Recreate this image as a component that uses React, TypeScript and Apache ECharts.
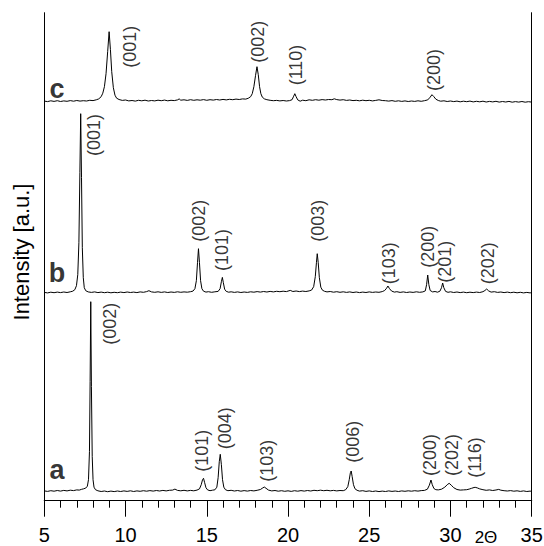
import { useEffect, useRef } from "react";
import * as echarts from "echarts";

// 2θ range and tick labels
const xMin = 5;
const xMax = 35;
const xTickStep = 5;

// vertical offsets (stacking) of the three patterns, in intensity units
const offsetA = 9;
const offsetB = 208;
const offsetC = 399;
const yMax = 488;

// pattern a: [2θ, intensity]
const traceA: [number, number][] = [
  [5.0,0.8],[5.2,0.3],[5.4,1.0],[5.6,0.5],[5.8,1.2],[6.0,0.6],[6.2,1.3],[6.4,0.8],[6.6,1.5],[6.8,1.1],[7.0,1.8],[7.15,1.6],[7.3,2.4],[7.42,2.9],[7.55,3.6],[7.65,5.5],[7.72,12],[7.78,40],[7.82,110],[7.86,190],[7.9,105],[7.95,35],[8.0,12],[8.06,4.5],[8.15,2.0],[8.3,0.9],[8.5,0.2],[8.7,0.7],[8.9,0.0],[9.1,0.6],[9.3,0.1],[9.5,0.7],[9.7,0.2],[9.9,0.8],[10.1,0.3],[10.3,0.9],[10.5,0.2],[10.7,0.8],[10.9,0.4],[11.1,1.0],[11.3,0.5],[11.5,1.1],[11.7,0.6],[11.9,1.2],[12.1,0.7],[12.3,1.3],[12.5,0.8],[12.7,1.4],[12.9,1.6],[13.04,2.6],[13.2,1.3],[13.4,0.9],[13.6,1.4],[13.8,0.8],[14.0,1.3],[14.2,0.9],[14.4,1.6],[14.55,2.8],[14.66,7],[14.74,12],[14.8,13.4],[14.87,9],[14.95,4],[15.05,1.8],[15.2,1.0],[15.35,1.5],[15.5,1.9],[15.62,4.5],[15.7,14],[15.77,30],[15.83,37.4],[15.9,27],[15.97,12],[16.05,4.5],[16.15,2.0],[16.3,1.0],[16.5,1.4],[16.7,0.7],[16.9,1.2],[17.1,0.5],[17.3,1.1],[17.5,0.6],[17.7,1.2],[17.9,0.8],[18.1,1.4],[18.3,2.2],[18.45,3.8],[18.54,4.7],[18.65,3.4],[18.8,1.6],[19.0,0.8],[19.2,1.2],[19.4,0.5],[19.6,1.0],[19.8,0.4],[20.0,0.9],[20.2,0.3],[20.4,1.0],[20.6,0.5],[20.8,1.1],[21.0,0.6],[21.2,1.2],[21.4,0.7],[21.6,1.4],[21.8,1.0],[22.0,1.5],[22.2,1.0],[22.4,1.4],[22.6,0.9],[22.8,1.3],[23.0,0.8],[23.2,1.2],[23.4,1.0],[23.55,2.0],[23.68,5],[23.77,12],[23.84,19],[23.89,20.7],[23.95,15],[24.03,7],[24.12,3.0],[24.25,1.4],[24.4,0.6],[24.6,1.0],[24.8,0.3],[25.0,0.8],[25.2,0.2],[25.4,0.7],[25.6,0.1],[25.8,0.6],[26.0,0.2],[26.2,0.8],[26.4,0.3],[26.6,0.7],[26.8,0.2],[27.0,0.8],[27.2,0.4],[27.4,0.9],[27.6,0.5],[27.8,1.0],[28.0,0.6],[28.2,1.1],[28.4,1.3],[28.58,2.5],[28.7,6.5],[28.8,11.7],[28.88,7],[28.98,3.2],[29.1,2.0],[29.25,1.8],[29.45,2.5],[29.65,4.5],[29.8,7],[29.92,8.4],[30.05,6.5],[30.2,4.0],[30.4,2.2],[30.6,1.6],[30.8,1.8],[31.0,2.0],[31.15,2.6],[31.3,3.4],[31.45,4.2],[31.52,4.4],[31.65,3.8],[31.8,2.8],[32.0,2.0],[32.2,1.4],[32.4,1.8],[32.6,1.2],[32.8,1.7],[32.97,2.3],[33.1,1.5],[33.3,1.0],[33.5,0.7],[33.7,1.1],[33.9,0.5],[34.1,0.9],[34.3,0.3],[34.5,0.8],[34.7,0.2],[34.9,0.6],[35.0,0.3]
];

// pattern b
const traceB: [number, number][] = [
  [5.0,0.3],[5.2,-0.2],[5.4,0.5],[5.6,0.0],[5.8,0.6],[6.0,0.1],[6.2,0.7],[6.4,0.2],[6.6,0.9],[6.75,1.5],[6.88,3.0],[6.98,7],[7.06,18],[7.13,50],[7.19,120],[7.24,179],[7.29,115],[7.34,45],[7.4,15],[7.46,5],[7.55,2.0],[7.7,0.8],[7.9,0.3],[8.1,0.8],[8.3,0.1],[8.5,0.6],[8.7,0.0],[8.9,0.5],[9.1,-0.1],[9.3,0.4],[9.5,0.0],[9.7,0.6],[9.9,0.1],[10.1,0.7],[10.3,0.2],[10.5,0.6],[10.7,0.1],[10.9,0.8],[11.1,0.4],[11.3,1.1],[11.44,2.0],[11.6,0.8],[11.8,0.4],[12.0,0.9],[12.2,0.3],[12.4,0.8],[12.6,0.2],[12.8,0.7],[13.0,0.3],[13.2,0.9],[13.4,0.4],[13.6,0.8],[13.8,0.5],[14.0,1.0],[14.15,1.6],[14.27,4],[14.36,12],[14.43,30],[14.49,44],[14.55,30],[14.62,12],[14.7,4],[14.8,1.5],[14.95,0.6],[15.1,1.0],[15.3,0.4],[15.5,0.9],[15.7,1.3],[15.82,4],[15.9,11],[15.96,15.3],[16.02,10],[16.1,3.5],[16.2,1.3],[16.35,0.5],[16.5,0.9],[16.7,0.3],[16.9,0.8],[17.1,0.2],[17.3,0.7],[17.5,0.3],[17.7,0.9],[17.9,0.5],[18.1,1.1],[18.3,0.6],[18.5,1.2],[18.7,0.7],[18.9,1.3],[19.1,0.8],[19.3,1.4],[19.5,1.0],[19.7,1.5],[19.9,1.1],[20.14,2.3],[20.3,1.2],[20.5,1.7],[20.7,1.1],[20.9,1.6],[21.1,1.2],[21.3,1.8],[21.45,2.6],[21.58,6],[21.68,16],[21.75,30],[21.8,39],[21.86,30],[21.93,15],[22.02,5.5],[22.12,2.5],[22.25,1.4],[22.4,0.8],[22.6,1.2],[22.8,0.5],[23.0,1.0],[23.2,0.4],[23.4,0.9],[23.6,0.3],[23.8,0.8],[24.0,0.2],[24.2,0.7],[24.4,0.1],[24.6,0.6],[24.8,0.2],[25.0,0.8],[25.2,0.3],[25.4,0.7],[25.6,0.4],[25.8,1.1],[25.95,2.2],[26.07,4.5],[26.15,6.7],[26.25,4.0],[26.38,1.6],[26.55,0.6],[26.7,1.0],[26.9,0.3],[27.1,0.8],[27.3,0.2],[27.5,0.7],[27.7,0.3],[27.9,0.9],[28.1,0.4],[28.3,0.8],[28.45,1.8],[28.53,8],[28.6,17.7],[28.67,8],[28.75,2.2],[28.9,0.8],[29.05,1.2],[29.2,0.5],[29.35,1.5],[29.45,5],[29.52,9.7],[29.59,5],[29.7,1.3],[29.85,0.4],[30.0,0.9],[30.2,0.2],[30.4,0.7],[30.6,0.1],[30.8,0.6],[31.0,0.0],[31.2,0.5],[31.4,0.1],[31.6,0.6],[31.8,0.2],[32.0,1.0],[32.12,2.2],[32.23,3.7],[32.35,1.8],[32.5,0.6],[32.7,1.0],[32.9,0.3],[33.1,0.7],[33.3,0.1],[33.5,0.6],[33.7,0.0],[33.9,0.5],[34.1,-0.1],[34.3,0.4],[34.5,-0.2],[34.7,0.3],[34.9,-0.2],[35.0,0.1]
];

// pattern c
const traceC: [number, number][] = [
  [5.0,0.6],[5.2,0.1],[5.4,0.9],[5.6,0.3],[5.8,1.0],[6.0,0.2],[6.2,0.8],[6.4,0.4],[6.6,1.1],[6.8,0.5],[7.0,1.2],[7.2,0.6],[7.4,1.0],[7.6,0.7],[7.8,1.4],[8.0,1.1],[8.2,1.9],[8.35,2.8],[8.5,5.0],[8.6,8.5],[8.7,15],[8.8,28],[8.9,50],[8.99,70],[9.07,52],[9.15,30],[9.25,14],[9.35,6.5],[9.45,3.5],[9.6,2.2],[9.8,1.3],[10.0,1.7],[10.2,0.8],[10.4,1.2],[10.6,0.6],[10.8,1.4],[11.0,0.9],[11.2,1.5],[11.4,0.7],[11.6,1.2],[11.8,0.8],[12.0,1.5],[12.2,1.0],[12.4,1.6],[12.6,0.9],[12.8,1.4],[13.0,1.1],[13.2,1.8],[13.3,2.8],[13.4,1.5],[13.6,1.9],[13.8,1.3],[14.0,2.0],[14.2,1.4],[14.4,1.9],[14.6,1.5],[14.8,2.1],[15.0,1.4],[15.2,2.0],[15.4,1.6],[15.6,2.2],[15.8,1.7],[16.0,2.3],[16.2,1.8],[16.4,2.4],[16.6,2.0],[16.8,2.6],[17.0,2.2],[17.2,2.8],[17.4,2.6],[17.55,3.4],[17.7,5.0],[17.8,8],[17.9,15],[18.0,26],[18.09,35],[18.17,27],[18.25,15],[18.33,8],[18.42,4.5],[18.55,2.8],[18.7,2.0],[18.9,1.4],[19.1,1.0],[19.3,1.3],[19.5,0.8],[19.7,1.2],[19.9,0.7],[20.1,1.1],[20.25,2.0],[20.35,5.5],[20.42,8],[20.5,5.0],[20.6,1.8],[20.75,0.5],[20.9,1.5],[21.1,1.0],[21.3,1.9],[21.5,1.4],[21.7,2.0],[21.9,1.5],[22.1,2.1],[22.3,1.7],[22.5,2.2],[22.7,2.0],[22.85,2.9],[23.0,2.1],[23.2,1.6],[23.4,2.0],[23.6,1.3],[23.8,1.7],[24.0,1.1],[24.2,1.4],[24.4,0.9],[24.6,1.5],[24.8,1.0],[25.0,1.4],[25.2,0.8],[25.4,1.3],[25.6,1.9],[25.8,1.2],[26.0,1.0],[26.2,0.6],[26.4,1.1],[26.6,0.4],[26.8,0.9],[27.0,0.3],[27.2,0.8],[27.4,0.2],[27.6,0.7],[27.8,0.3],[28.0,0.9],[28.2,0.4],[28.4,1.0],[28.6,1.8],[28.75,4.5],[28.86,7],[28.97,5.2],[29.1,2.5],[29.25,1.2],[29.4,0.5],[29.6,0.9],[29.8,0.2],[30.0,0.7],[30.2,0.1],[30.4,0.6],[30.6,-0.1],[30.8,0.5],[31.0,0.0],[31.2,0.6],[31.4,-0.2],[31.6,0.4],[31.8,-0.1],[32.0,0.5],[32.2,-0.3],[32.4,0.3],[32.6,-0.2],[32.8,0.4],[33.0,-0.4],[33.2,0.2],[33.4,-0.3],[33.6,0.3],[33.8,-0.5],[34.0,0.1],[34.2,-0.4],[34.4,0.2],[34.6,-0.5],[34.8,0.0],[35.0,-0.4]
];

// reflection labels: [2θ, height above the pattern's baseline, text]
const labelsA: [number, number, string][] = [
  [9.02, 168, "(002)"], [14.7, 40.9, "(101)"], [16.13, 63.4, "(004)"], [18.69, 30.9, "(103)"],
  [24.02, 50, "(006)"], [28.71, 36.7, "(200)"], [30.1, 36.7, "(202)"], [31.53, 34.2, "(116)"]
];
const labelsB: [number, number, string][] = [
  [8.05, 157.7, "(001)"], [14.53, 71.9, "(002)"], [15.92, 42.7, "(101)"], [21.85, 71.9, "(003)"],
  [26.22, 29.4, "(103)"], [28.61, 46, "(200)"], [29.67, 31, "(201)"], [32.34, 29.4, "(202)"]
];
const labelsC: [number, number, string][] = [
  [10.27, 55, "(001)"], [18.16, 60, "(002)"], [20.5, 36.7, "(110)"], [28.97, 31.7, "(200)"]
];

// pattern letters: [2θ, height above baseline, text, pattern offset]
const sampleLetters: [number, number, string, number][] = [
  [5.78, 21.6, "a", offsetA], [5.78, 19.7, "b", offsetB], [5.78, 12.4, "c", offsetC]
];

const xTitle = "2Θ";
const yTitle = "Intensity [a.u.]";

const FONT = "'Liberation Sans', Arial, Helvetica, sans-serif";

function shift(data: [number, number][], off: number) {
  return data.map(([x, y]) => [x, y + off]);
}
function shiftLabels(data: [number, number, string][], off: number) {
  return data.map(([x, y, t]) => [x, y + off, t]);
}

export default function App() {
  const ref = useRef<HTMLDivElement>(null);
  useEffect(() => {
    document.body.style.margin = "0";
    const chart = echarts.init(ref.current!, null, { renderer: "svg" });
    const lineSeries = (data: [number, number][], off: number) => ({
      type: "line",
      data: shift(data, off),
      showSymbol: false,
      symbol: "none",
      lineStyle: { color: "#000", width: 1 },
      silent: true,
    });
    const labelSeries = (data: [number, number, string][], off: number) => ({
      type: "scatter",
      data: shiftLabels(data, off),
      symbolSize: 0,
      silent: true,
      label: {
        show: true,
        position: "inside",
        rotate: 90,
        align: "center",
        verticalAlign: "middle",
        formatter: (p: any) => p.data[2],
        color: "#000",
        fontSize: 18,
        fontFamily: FONT,
      },
    });
    const axisCommon = {
      type: "value",
      min: xMin,
      max: xMax,
      interval: xTickStep,
      splitLine: { show: false },
      axisLine: { show: true, lineStyle: { color: "#000", width: 1 } },
    };
    chart.setOption({
      animation: false,
      backgroundColor: "#fff",
      grid: { left: 44.3, right: 12.3, top: 12.7, bottom: 45.3, containLabel: false, outerBoundsMode: "none" },
      xAxis: [
        {
          ...axisCommon,
          position: "bottom",
          axisTick: { show: true, inside: false, length: 16, lineStyle: { color: "#000", width: 1 } },
          minorTick: { show: true, splitNumber: 5, length: 7, lineStyle: { color: "#000", width: 1 } },
          minorSplitLine: { show: false },
          axisLabel: { show: true, color: "#000", fontSize: 20, fontFamily: FONT, margin: 24 },
        },
        {
          ...axisCommon,
          position: "top",
          axisTick: { show: true, inside: true, length: 12, lineStyle: { color: "#000", width: 1 } },
          minorTick: { show: true, splitNumber: 5, length: 6, lineStyle: { color: "#000", width: 1 } },
          minorSplitLine: { show: false },
          axisLabel: { show: false },
        },
      ],
      yAxis: [
        {
          type: "value", min: 0, max: yMax, position: "left",
          axisLine: { show: true, lineStyle: { color: "#000", width: 1 } },
          axisTick: { show: false }, axisLabel: { show: false }, splitLine: { show: false },
        },
        {
          type: "value", min: 0, max: yMax, position: "right",
          axisLine: { show: true, lineStyle: { color: "#000", width: 1 } },
          axisTick: { show: false }, axisLabel: { show: false }, splitLine: { show: false },
        },
      ],
      series: [
        lineSeries(traceA, offsetA),
        lineSeries(traceB, offsetB),
        lineSeries(traceC, offsetC),
        labelSeries(labelsA, offsetA),
        labelSeries(labelsB, offsetB),
        labelSeries(labelsC, offsetC),
        {
          type: "scatter",
          data: sampleLetters.map(([x, y, t, off]) => [x, y + off, t]),
          symbolSize: 0,
          silent: true,
          label: {
            show: true,
            position: "inside",
            align: "center",
            verticalAlign: "middle",
            formatter: (p: any) => p.data[2],
            color: "#000",
            fontSize: 27,
            fontWeight: "bold",
            fontFamily: FONT,
          },
        },
      ],
      graphic: [
        {
          type: "text",
          x: 21,
          y: 252,
          rotation: Math.PI / 2,
          style: { text: yTitle, fontSize: 22, fontFamily: FONT, fill: "#000", align: "center", verticalAlign: "middle" },
        },
        {
          type: "text",
          x: 486,
          y: 537,
          style: { text: xTitle, fontSize: 17, fontFamily: FONT, fill: "#000", align: "center", verticalAlign: "middle" },
        },
      ],
    });
    return () => chart.dispose();
  }, []);
  return <div ref={ref} style={{ position: "absolute", left: 0, top: 0, width: 544, height: 546 }} />;
}
